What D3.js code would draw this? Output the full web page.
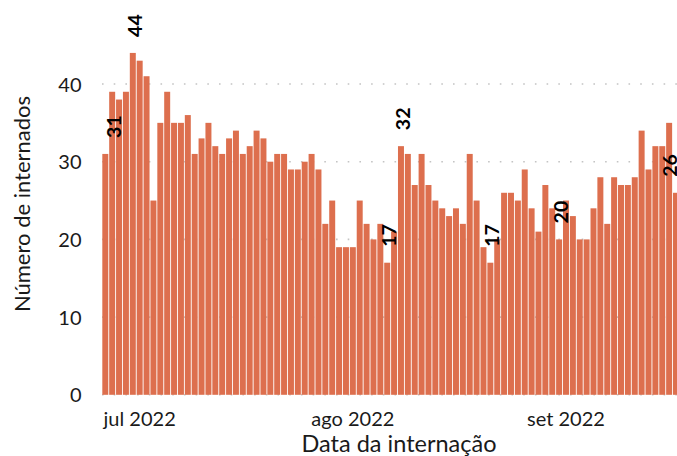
<!DOCTYPE html>
<html>
<head>
<meta charset="utf-8">
<script src="https://cdn.jsdelivr.net/npm/d3@7"></script>
<style>
  body { margin: 0; background: #fff; }
  svg { display: block; font-family: Lato, "DejaVu Sans", sans-serif; }
</style>
</head>
<body>
<div id="chart"></div>
<script>
// data
const startDate = "2022-06-26";
const values = [31,39,38,39,44,43,41,25,35,39,35,35,36,31,33,35,32,31,33,34,31,
                32,34,33,30,31,31,29,29,30,31,29,22,25,19,19,19,25,22,20,22,17,
                21,32,31,27,31,27,25,24,23,24,22,31,25,19,17,20,26,26,25,29,24,
                21,27,24,20,25,23,20,20,24,28,22,28,27,27,28,34,29,32,32,35,26];
const labelDates = ["2022-06-27","2022-06-30","2022-08-06","2022-08-08","2022-08-21","2022-08-31","2022-09-17"];
const labelValues = [31,44,17,32,17,20,26];
const monthTicks = ["2022-07-01","2022-08-01","2022-09-01"];
const monthLabels = ["jul 2022","ago 2022","set 2022"];
const yTicks = [0,10,20,30,40];

const parse = d3.timeParse("%Y-%m-%d");
const fmt = d3.timeFormat("%Y-%m-%d");
const days = values.map((v, i) => fmt(d3.timeDay.offset(parse(startDate), i)));

// canvas
const width = 677, height = 456;
const svg = d3.select("#chart").append("svg")
    .attr("width", width)
    .attr("height", height);

// scales
const xScale = d3.scaleBand()
    .domain(days)
    .range([101.86, 101.86 + 84 * 6.876])
    .paddingInner(0.13)
    .paddingOuter(0.065);

const yScale = d3.scaleLinear()
    .domain([0, 40])
    .range([394.8, 84]);

// dotted gridlines
svg.append("g")
    .selectAll("line")
    .data(yTicks)
    .enter()
    .append("line")
    .attr("x1", 102)
    .attr("x2", width)
    .attr("y1", d => yScale(d))
    .attr("y2", d => yScale(d))
    .attr("stroke", "#c4c4c4")
    .attr("stroke-width", 1.6)
    .attr("stroke-dasharray", "1.6,10.1");

// bars
svg.append("g")
    .selectAll("rect")
    .data(values)
    .enter()
    .append("rect")
    .attr("x", (d, i) => xScale(days[i]))
    .attr("y", d => yScale(d))
    .attr("width", xScale.bandwidth())
    .attr("height", d => yScale(0) - yScale(d))
    .attr("fill", "#dd6f4e");

// y tick labels
svg.append("g")
    .selectAll("text")
    .data(yTicks)
    .enter()
    .append("text")
    .attr("x", 81.5)
    .attr("y", d => yScale(d) + 7.5)
    .attr("text-anchor", "end")
    .attr("font-size", 20)
    .attr("fill", "#1a1a1a")
    .text(d => d);

// x tick labels
svg.append("g")
    .selectAll("text")
    .data(monthTicks)
    .enter()
    .append("text")
    .attr("x", d => xScale(d) + xScale.bandwidth() / 2)
    .attr("y", 426)
    .attr("text-anchor", "middle")
    .attr("font-size", 20)
    .attr("fill", "#1a1a1a")
    .text((d, i) => monthLabels[i]);

// axis titles
svg.append("text")
    .attr("x", 399)
    .attr("y", 451.5)
    .attr("text-anchor", "middle")
    .attr("font-size", 23.5)
    .attr("fill", "#1a1a1a")
    .text("Data da internação");

svg.append("text")
    .attr("transform", "translate(30, 204) rotate(-90)")
    .attr("text-anchor", "middle")
    .attr("font-size", 22)
    .attr("fill", "#1a1a1a")
    .text("Número de internados");

// value labels (kept inside the right edge)
svg.append("g")
    .selectAll("text")
    .data(labelValues)
    .enter()
    .append("text")
    .attr("transform", (d, i) => {
        const cx = Math.min(xScale(labelDates[i]) + xScale.bandwidth() / 2 + 9, width);
        return "translate(" + cx + ", " + (yScale(d) - 16) + ") rotate(-90)";
    })
    .attr("text-anchor", "start")
    .attr("font-size", 19.5)
    .attr("font-weight", "bold")
    .attr("fill", "#000")
    .text(d => d);
</script>
</body>
</html>
